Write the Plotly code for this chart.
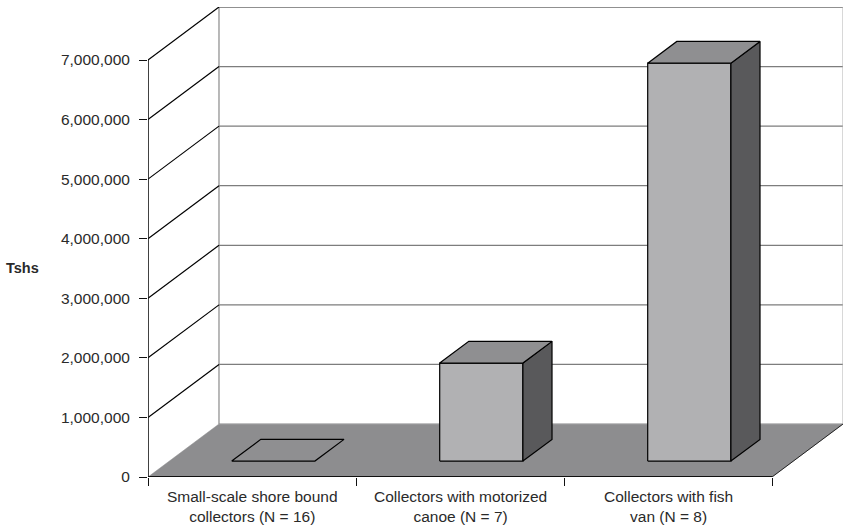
import plotly.graph_objects as go

# Chart data
categories = [
    "Small-scale shore bound<br>collectors (N = 16)",
    "Collectors with motorized<br>canoe (N = 7)",
    "Collectors with fish<br>van (N = 8)",
]
values = [0, 1_645_000, 6_680_000]
y_ticks = [0, 1_000_000, 2_000_000, 3_000_000, 4_000_000, 5_000_000, 6_000_000, 7_000_000]
y_tick_labels = [f"{v:,}" for v in y_ticks]
y_title = "Tshs"

# Oblique 3-D projection: depth d in [0, 1] shifts right and up
DX = 0.3413          # horizontal shift of full depth, in category units
DY = 0.8897e6        # vertical shift of full depth, in value units
N = len(categories)
Y_TOP = y_ticks[-1]

FONT = "Liberation Sans, Arial, sans-serif"
TXT = "#2a2a2a"
FLOOR = "#8d8d8f"
FRONT = "#b1b1b3"
TOP = "#8f8f91"
SIDE = "#59595b"


def proj(x, y, d):
    return x + d * DX, y + d * DY


def poly(points, fill, line_color="black", width=1.2):
    xs, ys = zip(*[proj(*p) for p in points])
    xs = list(xs) + [xs[0]]
    ys = list(ys) + [ys[0]]
    return go.Scatter(x=xs, y=ys, mode="lines", fill="toself", fillcolor=fill,
                      line=dict(color=line_color, width=width),
                      hoverinfo="skip", showlegend=False, cliponaxis=False)


def seg(p0, p1, color, width=1.0):
    a, b = proj(*p0), proj(*p1)
    return go.Scatter(x=[a[0], b[0]], y=[a[1], b[1]], mode="lines",
                      line=dict(color=color, width=width),
                      hoverinfo="skip", showlegend=False, cliponaxis=False)


fig = go.Figure()

# Floor
fig.add_trace(poly([(0, 0, 0), (N, 0, 0), (N, 0, 1), (0, 0, 1)], FLOOR,
                   line_color=FLOOR, width=0.5))
fig.add_trace(seg((0, 0, 1), (N, 0, 1), "#a0a0a2", 1.2))
fig.add_trace(seg((N, 0, 0), (N, 0, 1), "#222", 1.0))

# Back wall gridlines and edges
for v in y_ticks[1:]:
    col = "#222" if v == Y_TOP else "#7d7d7d"
    fig.add_trace(seg((0, v, 1), (N, v, 1), col, 1.2))
fig.add_trace(seg((0, 0, 1), (0, Y_TOP, 1), "#8a8a8a", 1.2))
fig.add_trace(seg((N, 0, 1), (N, Y_TOP, 1), "#b0b0b0", 1.0))

# Side wall gridlines
for v in y_ticks[1:]:
    fig.add_trace(seg((0, v, 0), (0, v, 1), "#000", 1.2))

# Value axis and category axis lines
fig.add_trace(seg((0, 0, 0), (0, Y_TOP, 0), "#111", 1.6))
fig.add_trace(seg((0, 0, 0), (N, 0, 0), "#111", 1.8))

# Bars
BX0, BX1 = 0.3, 0.7     # bar extent within a category
BD0, BD1 = 0.3, 0.71    # bar extent in depth
for i, v in enumerate(values):
    x0, x1 = i + BX0, i + BX1
    if v > 0:
        fig.add_trace(poly([(x0, 0, BD0), (x1, 0, BD0), (x1, v, BD0), (x0, v, BD0)], FRONT))
        fig.add_trace(poly([(x1, 0, BD0), (x1, 0, BD1), (x1, v, BD1), (x1, v, BD0)], SIDE))
    fig.add_trace(poly([(x0, v, BD0), (x1, v, BD0), (x1, v, BD1), (x0, v, BD1)], TOP))

# Category labels
for i, name in enumerate(categories):
    fig.add_annotation(x=i + 0.5, y=0, xref="x", yref="y", text=name,
                       showarrow=False, yanchor="top", yshift=-9,
                       font=dict(family=FONT, size=15.5, color=TXT))

# Axis title
fig.add_annotation(x=-0.18, y=3.51e6, xref="paper", yref="y", text=f"<b>{y_title}</b>",
                   showarrow=False, xanchor="center", yanchor="middle",
                   font=dict(family=FONT, size=14.5, color=TXT))

fig.update_layout(
    width=844, height=531,
    margin=dict(l=148, r=1, t=7, b=54),
    paper_bgcolor="white", plot_bgcolor="white",
    xaxis=dict(range=[0, N + DX], tickvals=list(range(N + 1)),
               ticktext=[""] * (N + 1), ticks="outside", ticklen=8,
               tickcolor="#111", tickwidth=1.2, showgrid=False,
               zeroline=False, showline=False, fixedrange=True),
    yaxis=dict(range=[0, Y_TOP + DY], tickvals=y_ticks, ticktext=y_tick_labels,
               ticks="outside", ticklen=8, tickcolor="#111", tickwidth=1.2,
               ticklabelstandoff=6,
               showgrid=False, zeroline=False, showline=False,
               tickfont=dict(family=FONT, size=15.5, color=TXT), fixedrange=True),
)

fig.write_html("out.html")
